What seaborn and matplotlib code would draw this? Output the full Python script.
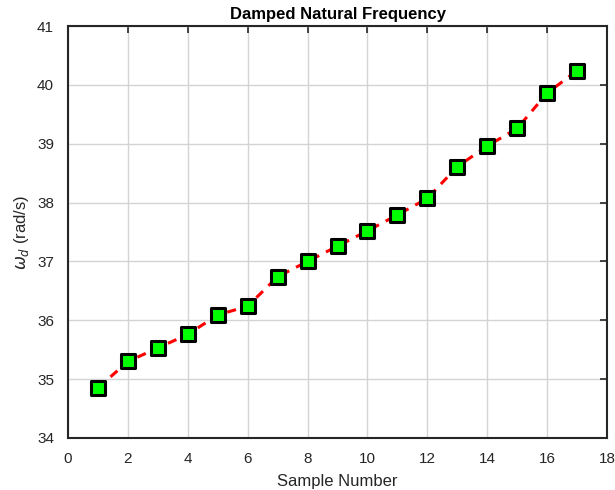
import matplotlib
matplotlib.use("Agg")
import matplotlib.pyplot as plt
import seaborn as sns
import pandas as pd

sample = list(range(1, 18))
omega_d = [34.85, 35.30, 35.53, 35.76, 36.09, 36.24, 36.74, 37.00, 37.26,
           37.52, 37.79, 38.07, 38.61, 38.96, 39.26, 39.86, 40.24]
xticks = [0, 2, 4, 6, 8, 10, 12, 14, 16, 18]
yticks = [34, 35, 36, 37, 38, 39, 40, 41]

df = pd.DataFrame({"sample": sample, "omega": omega_d})

sns.set_theme(style="white")
plt.rcParams['font.family'] = ['Arial', 'Liberation Sans', 'DejaVu Sans']

fig = plt.figure(figsize=(6.15, 4.9), dpi=100)
ax = fig.add_axes([68/615, 1-438/490, (607-68)/615, (438-26)/490])

sns.lineplot(data=df, x="sample", y="omega", ax=ax, color="red",
             linestyle=(0, (3, 2.5)), linewidth=2.2, zorder=2)
sns.scatterplot(data=df, x="sample", y="omega", ax=ax, marker="s", s=105,
                color="#00ff00", edgecolor="black", linewidth=2.2, zorder=3)

ax.set_xlim(0, 18)
ax.set_ylim(34, 41)
ax.set_xticks(xticks)
ax.set_yticks(yticks)
ax.grid(True, color="#d4d4d4", linewidth=1)
ax.set_axisbelow(True)
for s in ax.spines.values():
    s.set_color("#262626")
    s.set_linewidth(1.5)
ax.tick_params(direction="in", length=5, width=1.2, color="#262626",
               top=True, right=True, labelsize=11, labelcolor="#262626")
ax.tick_params(axis="x", pad=10)
ax.tick_params(axis="y", pad=10)
ax.set_xlabel("Sample Number", fontsize=12, color="#262626", labelpad=6)
ax.set_ylabel(r"$\omega_d$ (rad/s)", fontsize=12, color="#262626")
ax.yaxis.set_label_coords(-0.068, 0.5)
ax.set_title("Damped Natural Frequency", fontsize=12, fontweight="bold", color="black", pad=5)

fig.savefig("out.png", dpi=100)
